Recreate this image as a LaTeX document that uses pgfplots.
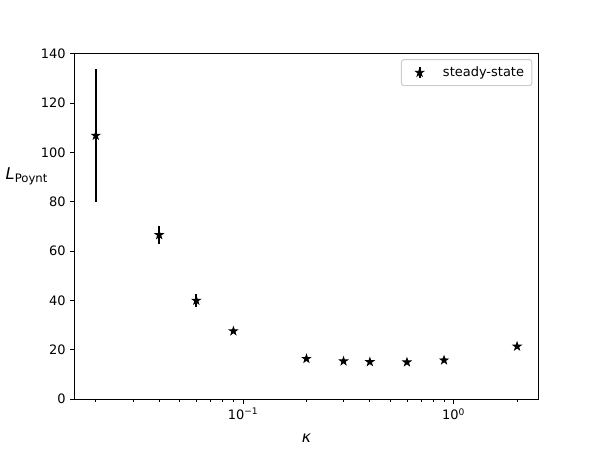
\documentclass[border=0pt]{standalone}
\usepackage{fontspec}
\setmainfont{DejaVu Sans}
\usepackage{pgfplots}
\usepackage{pgfplotstable}
\pgfplotsset{compat=1.18}

% filled five-pointed star, like matplotlib's '*' marker
\pgfdeclareplotmark{fstar}{%
  \pgfpathmoveto{\pgfpointpolar{90}{\pgfplotmarksize}}%
  \pgfpathlineto{\pgfpointpolar{126}{0.382\pgfplotmarksize}}%
  \pgfpathlineto{\pgfpointpolar{162}{\pgfplotmarksize}}%
  \pgfpathlineto{\pgfpointpolar{198}{0.382\pgfplotmarksize}}%
  \pgfpathlineto{\pgfpointpolar{234}{\pgfplotmarksize}}%
  \pgfpathlineto{\pgfpointpolar{270}{0.382\pgfplotmarksize}}%
  \pgfpathlineto{\pgfpointpolar{306}{\pgfplotmarksize}}%
  \pgfpathlineto{\pgfpointpolar{342}{0.382\pgfplotmarksize}}%
  \pgfpathlineto{\pgfpointpolar{18}{\pgfplotmarksize}}%
  \pgfpathlineto{\pgfpointpolar{54}{0.382\pgfplotmarksize}}%
  \pgfpathclose
  \pgfusepathqfillstroke
}

% kappa, L_Poynt, error
\pgfplotstableread{
k     L      e
0.02  106.9  26.9
0.04  66.6   3.5
0.06  40.0   2.5
0.09  27.6   0.6
0.2   16.4   0.4
0.3   15.4   0.4
0.4   15.1   0.4
0.6   15.0   0.4
0.9   15.8   0.4
2.0   21.4   0.5
}\steady

\begin{document}
\begin{tikzpicture}
\begin{axis}[
  scale only axis, width=357.1pt, height=266.1pt,
  at={(0,0)}, anchor=south west,
  xmode=log, xmin=0.01589, xmax=2.518, ymin=0, ymax=140,
  xtick={0.1,1}, xticklabels={10\textsuperscript{−1},10\textsuperscript{0}},
  minor xtick={0.02,0.03,0.04,0.05,0.06,0.07,0.08,0.09,0.2,0.3,0.4,0.5,0.6,0.7,0.8,0.9,2},
  ytick={0,20,...,140},
  axis line style={line width=0.8pt},
  tick align=outside, xtick pos=bottom, ytick pos=left,
  major tick length=3.5pt, minor tick length=2pt,
  every major tick/.append style={line width=0.8pt, black},
  every minor tick/.append style={line width=0.6pt, black},
  /pgf/number format/assume math mode=true,
  tick label style={font=\fontsize{10}{12}\selectfont},
  every axis y label/.style={at={(rel axis cs:0,0.6366)}, anchor=base east, xshift=-17.5pt},
  ylabel={{\fontsize{12.5}{14}\selectfont\itshape L}\raisebox{-2.5pt}{\fontsize{9}{10}\selectfont Poynt}},
  every axis x label/.style={at={(rel axis cs:0.5,0)}, anchor=base, yshift=-33.4pt},
  xlabel={\fontsize{12}{14}\selectfont\itshape κ},
  legend style={at={(rel axis cs:1,1)}, anchor=north east, xshift=-4.5pt, yshift=-4pt,
    draw=black!20, line width=0.8pt, rounded corners=2pt, font=\fontsize{10}{12}\selectfont,
    inner xsep=4pt, inner ysep=3.5pt},
  legend cell align=left,
]
\addplot[forget plot, draw=none, mark=none,
  error bars/.cd, y dir=both, y explicit, error mark=none,
  error bar style={line width=1.5pt, black}]
  table[x=k, y=L, y error=e] {\steady};
\addplot[only marks, mark=fstar, mark size=3.3pt,
  mark options={fill=black, draw=black, line width=0.6pt},
  legend image code/.code={
    \path[draw=none] (0pt,0pt) (26pt,0pt);
    \draw[black, line width=1.5pt] (10pt,-4pt) -- (10pt,4pt);
    \draw[black, fill=black, line width=0.6pt, mark=fstar, mark size=3.3pt, only marks]
      plot coordinates {(10pt,0pt)};
  }]
  table[x=k, y=L] {\steady};
\addlegendentry{steady-state}
\end{axis}
\pgfresetboundingbox
\path[use as bounding box] (-57.6pt,-38.0pt) rectangle (403.2pt,307.6pt);
\end{tikzpicture}
\end{document}
